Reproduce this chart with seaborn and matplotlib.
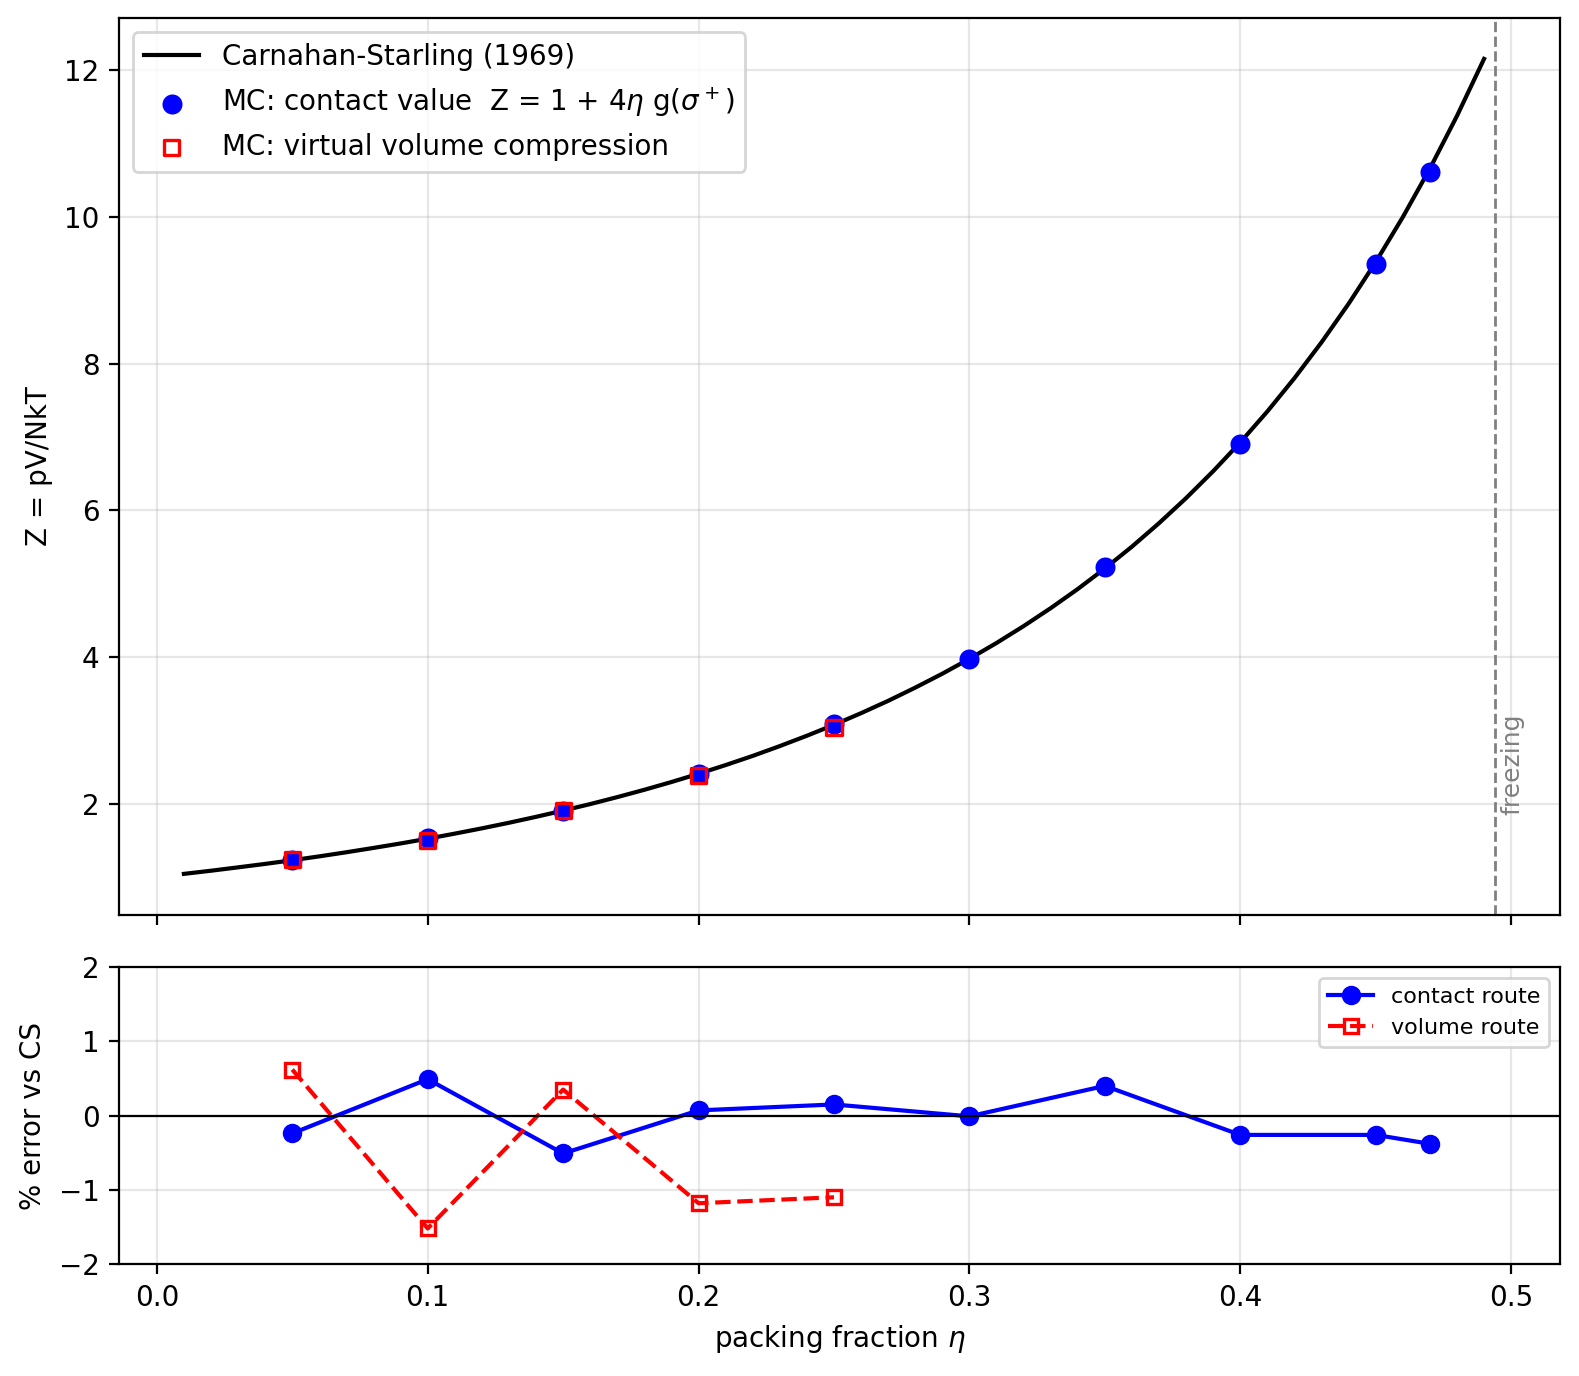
"""Hard-sphere equation of state: MC vs Carnahan-Starling."""

import matplotlib
matplotlib.use("Agg")
import matplotlib.pyplot as plt
import numpy as np
import pandas as pd
import seaborn as sns

# Carnahan-Starling curve, values
eta_cs = [0.01, 0.02, 0.03, 0.04, 0.05, 0.06, 0.07, 0.08, 0.09, 0.10,
          0.11, 0.12, 0.13, 0.14, 0.15, 0.16, 0.17, 0.18, 0.19, 0.20,
          0.21, 0.22, 0.23, 0.24, 0.25, 0.26, 0.27, 0.28, 0.29, 0.30,
          0.31, 0.32, 0.33, 0.34, 0.35, 0.36, 0.37, 0.38, 0.39, 0.40,
          0.41, 0.42, 0.43, 0.44, 0.45, 0.46, 0.47, 0.48, 0.49]
z_cs = [1.041, 1.084, 1.130, 1.177, 1.227, 1.280, 1.336, 1.395, 1.456, 1.521,
        1.590, 1.662, 1.738, 1.819, 1.904, 1.993, 2.088, 2.188, 2.294, 2.406,
        2.525, 2.650, 2.784, 2.925, 3.074, 3.233, 3.401, 3.581, 3.771, 3.974,
        4.190, 4.420, 4.665, 4.926, 5.206, 5.504, 5.824, 6.166, 6.533, 6.926,
        7.348, 7.802, 8.291, 8.817, 9.385, 9.998, 10.660, 11.378, 12.156]

# MC contact-value route
eta_contact = [0.05, 0.10, 0.15, 0.20, 0.25, 0.30, 0.35, 0.40, 0.45, 0.47]
z_contact = [1.224, 1.529, 1.894, 2.408, 3.079, 3.973, 5.227, 6.908, 9.360, 10.620]
err_contact = [-0.24, 0.49, -0.51, 0.07, 0.15, -0.01, 0.40, -0.26, -0.26, -0.38]

# MC virtual volume compression route
eta_volume = [0.05, 0.10, 0.15, 0.20, 0.25]
z_volume = [1.235, 1.498, 1.910, 2.378, 3.040]
err_volume = [0.62, -1.52, 0.35, -1.18, -1.10]

eta_freeze = 0.494

cs_df = pd.DataFrame({"eta": eta_cs, "Z": z_cs})
contact_df = pd.DataFrame({"eta": eta_contact, "Z": z_contact, "err": err_contact})
volume_df = pd.DataFrame({"eta": eta_volume, "Z": z_volume, "err": err_volume})

fig = plt.figure(figsize=(7.895, 6.88), dpi=200)
ax = fig.add_axes([0.0753, 0.3353, 0.9126, 0.6515])
ax2 = fig.add_axes([0.0753, 0.0813, 0.9126, 0.2159], sharex=ax)

# top panel
sns.lineplot(data=cs_df, x="eta", y="Z", color="black", linewidth=1.5,
             label="Carnahan-Starling (1969)", ax=ax)
sns.scatterplot(data=contact_df, x="eta", y="Z", color="blue", s=52,
                linewidth=0, zorder=3,
                label=r"MC: contact value  Z = 1 + 4$\eta$ g($\sigma^+$)", ax=ax)
sns.scatterplot(data=volume_df, x="eta", y="Z", marker="s", color="red",
                facecolor="none", edgecolor="red", s=30, linewidth=1.2,
                zorder=4, label="MC: virtual volume compression", ax=ax)
ax.axvline(eta_freeze, color="gray", linestyle="--", linewidth=1)
ax.text(eta_freeze + 0.002, 1.85, "freezing", rotation=90, color="gray",
        fontsize=9, va="bottom", ha="left")
ax.set_ylabel("Z = pV/NkT")
ax.set_xlabel("")
ax.grid(alpha=0.3)
ax.legend(loc="upper left")
ax.tick_params(labelbottom=False)
ax.set_xlim(-0.014, 0.518)

# bottom panel: relative error
sns.lineplot(data=contact_df, x="eta", y="err", color="blue", marker="o",
             markersize=6, markeredgecolor="blue", markeredgewidth=1,
             linewidth=1.5, label="contact route", ax=ax2)
sns.lineplot(data=volume_df, x="eta", y="err", color="red", marker="s",
             markersize=5, markerfacecolor="none", markeredgecolor="red",
             markeredgewidth=1.2, linestyle="--", linewidth=1.5,
             label="volume route", ax=ax2)
ax2.axhline(0, color="black", linewidth=0.8)
ax2.set_ylim(-2, 2)
ax2.set_yticks([-2, -1, 0, 1, 2])
ax2.set_ylabel("% error vs CS")
ax2.set_xlabel(r"packing fraction $\eta$")
ax2.grid(alpha=0.3)
ax2.legend(loc="upper right", fontsize=8)
ax2.set_xticks([0.0, 0.1, 0.2, 0.3, 0.4, 0.5])

fig.savefig("out.png", dpi=200)
plt.close(fig)
